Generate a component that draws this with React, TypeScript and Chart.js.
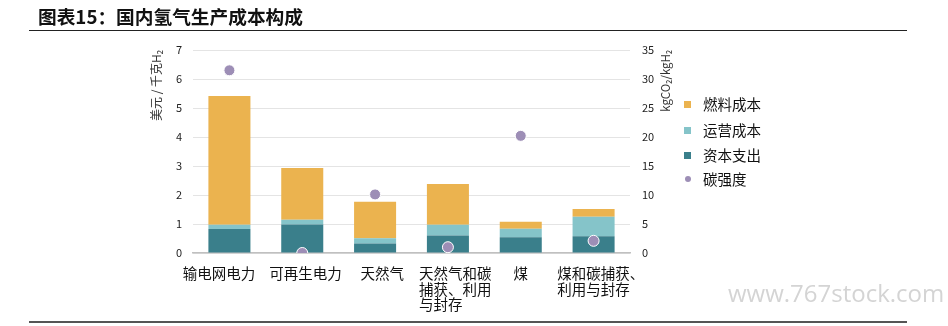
import React, { useEffect, useRef } from "react";
import { Chart, registerables } from "chart.js";

Chart.register(...registerables);

const categories: string[][] = [
  ["输电网电力　  "],
  ["  可再生电力"],
  ["　天然气"],
  ["　天然气和碳", "　捕获、利用", "　与封存　　"],
  ["煤"],
  ["　煤和碳捕获、", "　利用与封存　"],
];
const capex = [0.83, 0.98, 0.33, 0.6, 0.54, 0.58];
const opex = [0.14, 0.17, 0.18, 0.37, 0.3, 0.67];
const fuel = [4.44, 1.78, 1.26, 1.41, 0.24, 0.27];
const carbon = [31.5, 0.0, 10.1, 1.0, 20.2, 2.1];

const seriesNames = ["燃料成本", "运营成本", "资本支出", "碳强度"];
const colors = { fuel: "#EBB34F", opex: "#85C4C9", capex: "#3A7F8B", carbon: "#9D8EB6" };

const leftTitle = "美元 / 千克H₂";
const rightTitle = "kgCO₂/kgH₂";

const FONT = '"Noto Sans CJK SC", "Noto Sans", sans-serif';

const axisTitlePlugin = {
  id: "axisTitles",
  afterDraw(chart: any) {
    const ctx = chart.ctx;
    const area = chart.chartArea;
    ctx.save();
    ctx.fillStyle = "#333";
    ctx.textBaseline = "middle";
    ctx.textAlign = "right";
    ctx.font = `12px ${FONT}`;
    ctx.translate(156, area.top);
    ctx.rotate(-Math.PI / 2);
    ctx.fillText(leftTitle, 0, 0);
    ctx.restore();
    ctx.save();
    ctx.fillStyle = "#333";
    ctx.textBaseline = "middle";
    ctx.textAlign = "right";
    ctx.font = `11.5px ${FONT}`;
    ctx.translate(666, area.top);
    ctx.rotate(-Math.PI / 2);
    ctx.fillText(rightTitle, 0, 0);
    ctx.restore();
  },
};

export default function App() {
  const ref = useRef<HTMLCanvasElement | null>(null);
  useEffect(() => {
    if (!ref.current) return;
    const chart = new Chart(ref.current, {
      type: "bar",
      data: {
        labels: categories as any,
        datasets: [
          {
            type: "line",
            label: seriesNames[3],
            data: carbon,
            yAxisID: "y1",
            showLine: false,
            pointRadius: 5.5,
            pointBackgroundColor: colors.carbon,
            pointBorderColor: "#ffffff",
            pointBorderWidth: 1,
            order: 0,
          } as any,
          { label: seriesNames[2], data: capex, backgroundColor: colors.capex, stack: "s", yAxisID: "y", order: 1 },
          { label: seriesNames[1], data: opex, backgroundColor: colors.opex, stack: "s", yAxisID: "y", order: 1 },
          { label: seriesNames[0], data: fuel, backgroundColor: colors.fuel, stack: "s", yAxisID: "y", order: 1 },
        ],
      },
      options: {
        animation: false,
        responsive: false,
        maintainAspectRatio: false,
        layout: { padding: { top: 50, left: 0, right: 0, bottom: 0 } },
        datasets: { bar: { barPercentage: 0.577, categoryPercentage: 1 } } as any,
        plugins: { legend: { display: false }, tooltip: { enabled: false }, title: { display: false } },
        scales: {
          x: {
            stacked: true,
            grid: { display: false, drawTicks: false },
            border: { color: "#c0c0c0", width: 1.5 },
            ticks: {
              color: "#111",
              padding: 13,
              maxRotation: 0,
              autoSkip: false,
              font: { family: FONT, size: 14.5, lineHeight: 1.07 },
            },
            afterFit: (s: any) => {
              s.height = 73;
            },
          },
          y: {
            stacked: true,
            position: "left",
            min: 0,
            max: 7,
            ticks: { stepSize: 1, color: "#222", padding: 11, font: { family: FONT, size: 11 } },
            grid: { color: "#e4e4e4", drawTicks: false },
            border: { display: false },
            afterFit: (s: any) => {
              s.width = 193;
            },
          },
          y1: {
            position: "right",
            min: 0,
            max: 35,
            ticks: { stepSize: 5, color: "#222", padding: 12, font: { family: FONT, size: 11 } },
            grid: { drawOnChartArea: false, drawTicks: false },
            border: { display: false },
            afterFit: (s: any) => {
              s.width = 318;
            },
          },
        },
      },
      plugins: [axisTitlePlugin],
    });
    return () => chart.destroy();
  }, []);

  const legendItems = [
    { name: seriesNames[0], color: colors.fuel, y: 104, shape: "sq" },
    { name: seriesNames[1], color: colors.opex, y: 130, shape: "sq" },
    { name: seriesNames[2], color: colors.capex, y: 155, shape: "sq" },
    { name: seriesNames[3], color: colors.carbon, y: 179, shape: "dot" },
  ];

  return (
    <div style={{ position: "fixed", left: 0, top: 0, width: 948, height: 326, background: "#fff", overflow: "hidden" }}>
      <canvas ref={ref} width={948} height={326} style={{ position: "absolute", left: 0, top: 0 }} />
      <div
        style={{
          position: "absolute",
          left: 38,
          top: 6,
          fontFamily: FONT,
          fontWeight: 700,
          fontSize: 18.7,
          lineHeight: "20px",
          color: "#111",
          whiteSpace: "nowrap",
        }}
      >
        图表15：国内氢气生产成本构成
      </div>
      <div style={{ position: "absolute", left: 29, top: 30, width: 878, height: 1, background: "#222" }} />
      <div style={{ position: "absolute", left: 29, top: 321, width: 878, height: 2, background: "#555" }} />
      {legendItems.map((it) => (
        <div key={it.name} style={{ position: "absolute", left: 682, top: it.y - 10, height: 20, display: "flex", alignItems: "center" }}>
          <div
            style={{
              width: it.shape === "sq" ? 7 : 6,
              height: it.shape === "sq" ? 7 : 6,
              borderRadius: it.shape === "sq" ? 0 : 3,
              background: it.color,
              marginLeft: it.shape === "sq" ? 2 : 2.5,
              marginRight: it.shape === "sq" ? 12 : 12.5,
            }}
          />
          <span style={{ fontFamily: FONT, fontSize: 14.5, color: "#111", lineHeight: "20px", whiteSpace: "nowrap" }}>{it.name}</span>
        </div>
      ))}
      <div
        style={{
          position: "absolute",
          left: 728,
          top: 279,
          fontFamily: '"Open Sans", sans-serif',
          fontSize: 24,
          color: "#d4d4d4",
          lineHeight: "28px",
          whiteSpace: "nowrap",
        }}
      >
        www.767stock.com
      </div>
    </div>
  );
}
